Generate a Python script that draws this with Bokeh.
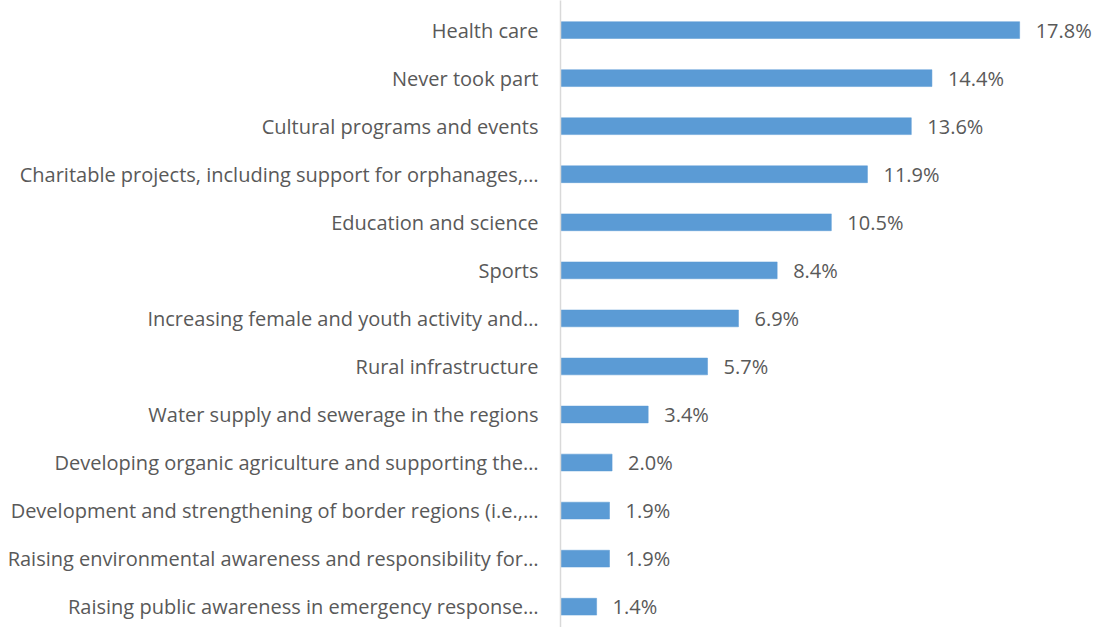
from bokeh.plotting import figure
from bokeh.models import ColumnDataSource, Range1d, FixedTicker
from bokeh.core.properties import value
from bokeh.embed import file_html
from bokeh.resources import INLINE

categories = [
    "Health care",
    "Never took part",
    "Cultural programs and events",
    "Charitable projects, including support for orphanages,…",
    "Education and science",
    "Sports",
    "Increasing female and youth activity and…",
    "Rural infrastructure",
    "Water supply and sewerage in the regions",
    "Developing organic agriculture and supporting the…",
    "Development and strengthening of border regions (i.e.,…",
    "Raising environmental awareness and responsibility for…",
    "Raising public awareness in emergency response…",
]
shares = [17.8, 14.4, 13.6, 11.9, 10.5, 8.4, 6.9, 5.7, 3.4, 2.0, 1.9, 1.9, 1.4]

n = len(categories)
pos = [n - 1 - i for i in range(n)]
labels = [f"{v:.1f}%" for v in shares]

src = ColumnDataSource(dict(y=pos, v=shares, lab=labels))

FONT = "Open Sans"
TXT = "#595959"

p = figure(width=1104, height=627, output_backend="svg", toolbar_location=None,
           x_range=Range1d(0, 21.09), y_range=Range1d(-0.433, n - 1 + 0.616),
           min_border_left=560, min_border_right=0, min_border_top=0, min_border_bottom=0)

p.hbar(y="y", right="v", left=0, height=0.35, source=src,
       fill_color="#5B9BD5", line_color="#5B9BD5", line_width=0.5)
p.text(x="v", y="y", text="lab", source=src, x_offset=16, text_baseline="middle",
       text_align="left", text_color=TXT, text_font=value(FONT), text_font_size="20px")

p.xaxis.visible = False
p.xgrid.visible = False
p.ygrid.visible = False
p.outline_line_color = None

ya = p.yaxis[0]
ya.ticker = FixedTicker(ticks=pos)
ya.major_label_overrides = {pos[i]: categories[i] for i in range(n)}
ya.major_tick_line_color = None
ya.minor_tick_line_color = None
ya.major_tick_out = 0
ya.major_tick_in = 0
ya.major_label_standoff = 22
ya.axis_line_color = "#D9D9D9"
ya.axis_line_width = 1.5
ya.major_label_text_font = FONT
ya.major_label_text_font_size = "20px"
ya.major_label_text_color = TXT

open("out.html", "w").write(file_html(p, INLINE))
